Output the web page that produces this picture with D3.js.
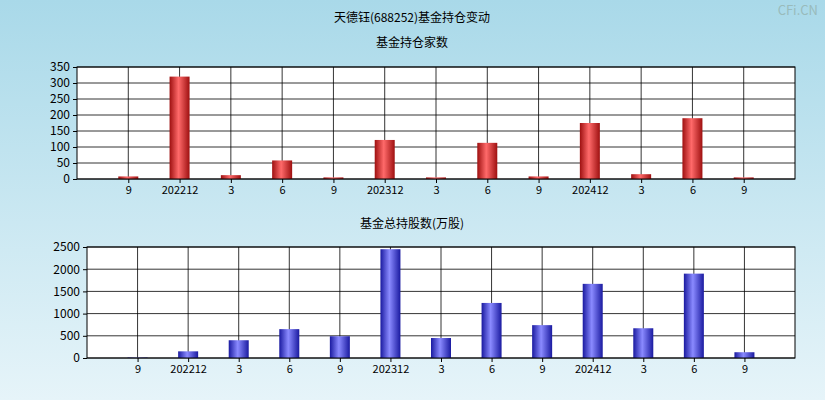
<!DOCTYPE html><html><head><meta charset="utf-8"><script src="https://cdn.jsdelivr.net/npm/d3@7"></script>
<style>body{margin:0}svg{display:block;font-family:"Noto Sans CJK SC",sans-serif}</style></head><body>
<svg id="c" width="825" height="400"></svg>
<script>
const labels=["9","202212","3","6","9","202312","3","6","9","202412","3","6","9"];
const funds=[8,320,12,58,5,122,5,113,8,175,15,190,5];
const shares=[10,150,400,650,490,2450,450,1240,740,1670,670,1900,130];
const ticks1=[0,50,100,150,200,250,300,350];
const ticks2=[0,500,1000,1500,2000,2500];
const svg=d3.select("#c");
const defs=svg.append("defs");
const bg=defs.append("linearGradient").attr("id","bg").attr("x1",0).attr("y1",0).attr("x2",0).attr("y2",1);
bg.append("stop").attr("offset",0).attr("stop-color","#a9d9e9");
bg.append("stop").attr("offset",1).attr("stop-color","#e6f4f9");
function cyl(id,dark,light){const g=defs.append("linearGradient").attr("id",id);
g.append("stop").attr("offset",0).attr("stop-color",dark);
g.append("stop").attr("offset",0.45).attr("stop-color",light);
g.append("stop").attr("offset",1).attr("stop-color",dark);}
cyl("red","#9e1010","#ff6a6a");cyl("blue","#1a1aa0","#8a8aff");
svg.append("rect").attr("width",825).attr("height",400).attr("fill","url(#bg)");
svg.append("text").attr("x",412).attr("y",22).attr("text-anchor","middle").attr("font-size",12).text("天德钰(688252)基金持仓变动");
svg.append("text").attr("x",818).attr("y",15).attr("text-anchor","end").attr("font-size",13).attr("fill","#9bb").text("CFi.CN");
function panel(title,ty,x0,x1,y0,y1,vals,tks,max,fill){
 svg.append("text").attr("x",412).attr("y",ty).attr("text-anchor","middle").attr("font-size",12).text(title);
 const x=d3.scaleLinear().domain([-1,13]).range([x0,x1]);
 const y=d3.scaleLinear().domain([0,max]).range([y1,y0]);
 svg.append("rect").attr("x",x0).attr("y",y0).attr("width",x1-x0).attr("height",y1-y0).attr("fill","#fff");
 const g=svg.append("g");
 tks.forEach(t=>g.append("line").attr("x1",x0).attr("x2",x1).attr("y1",y(t)).attr("y2",y(t)).attr("stroke","#000").attr("stroke-width",0.8));
 labels.forEach((l,i)=>g.append("line").attr("x1",x(i)).attr("x2",x(i)).attr("y1",y0).attr("y2",y1).attr("stroke","#000").attr("stroke-width",0.8));
 svg.selectAll(null).data(vals).enter().append("rect").attr("x",(d,i)=>x(i)-10).attr("width",20)
  .attr("y",d=>y(d)).attr("height",d=>y1-y(d)).attr("fill",fill);
 svg.append("rect").attr("x",x0).attr("y",y0).attr("width",x1-x0).attr("height",y1-y0).attr("fill","none").attr("stroke","#000");
 const ay=svg.append("g").attr("transform",`translate(${x0},0)`).call(d3.axisLeft(y).tickValues(tks).tickFormat(d=>String(d)).tickSize(4).tickSizeOuter(0));
 ay.select(".domain").remove();ay.selectAll("text").attr("font-size",12).attr("fill","#000").style("font-family","Noto Sans CJK SC");
 const ax=svg.append("g").attr("transform",`translate(0,${y1})`).call(d3.axisBottom(x).tickValues(d3.range(13)).tickFormat(i=>labels[i]).tickSize(4).tickSizeOuter(0));
 ax.select(".domain").remove();ax.selectAll("text").attr("font-size",11).attr("fill","#000").style("font-family","Noto Sans CJK SC");
}
panel("基金持仓家数",47,77,795,67,179,funds,ticks1,350,"url(#red)");
panel("基金总持股数(万股)",228,87,795,247,358,shares,ticks2,2500,"url(#blue)");
</script></body></html>
